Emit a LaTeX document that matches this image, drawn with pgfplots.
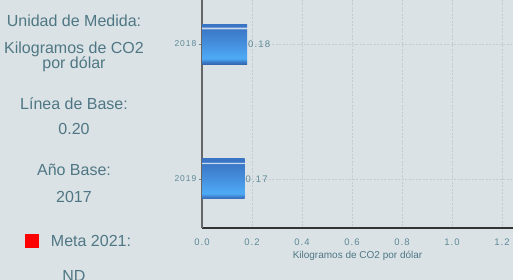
\documentclass[border=0pt]{standalone}
\usepackage{pgfplots}
\pgfplotsset{compat=1.18}
\usepackage{fontspec}
\setmainfont{Liberation Sans}
\newfontfamily\spaced[LetterSpace=12]{Liberation Sans}
\definecolor{bg}{HTML}{DAE2E6}
\definecolor{txt}{HTML}{4F7783}
\definecolor{tick}{HTML}{5E8995}
\definecolor{gridc}{HTML}{C4CCD0}
\definecolor{ba}{HTML}{3568B0}
\definecolor{bb}{HTML}{3A74C2}
\definecolor{bc}{HTML}{4EABF6}
\definecolor{bd}{HTML}{4590DE}
\definecolor{be}{HTML}{3B78C6}
\definecolor{bf}{HTML}{DDE8F4}
\definecolor{bg2}{HTML}{F2F6FA}
\definecolor{bh}{HTML}{3A74C4}
\pgfdeclareverticalshading{barshade}{100bp}{%
color(0bp)=(ba); color(25bp)=(ba); color(27bp)=(bb);
color(32bp)=(bc); color(50bp)=(bd); color(69bp)=(be);
color(69.6bp)=(bf); color(70.8bp)=(bg2); color(71.3bp)=(bh);
color(75bp)=(bh); color(100bp)=(bh)}
\begin{document}
\begin{tikzpicture}[x=1pt,y=1pt]
\useasboundingbox (0,0) rectangle (513,280);
\fill[bg] (0,0) rectangle (513,280);
\clip (0,0) rectangle (513,280);
\begin{scope}[every node/.style={font=\fontsize{16}{18}\selectfont, text=txt, anchor=base, inner sep=0pt}]
\node at (74,{280-27}) {Unidad de Medida:};
\node at (74,{280-53.5}) {Kilogramos de CO2};
\node at (74,{280-69}) {por dólar};
\node at (74,{280-110}) {Línea de Base:};
\node at (74,{280-135}) {0.20};
\node at (74,{280-176}) {Año Base:};
\node at (74,{280-203}) {2017};
\node at (91,{280-247}) {Meta 2021:};
\node at (74,{280-282}) {ND};
\end{scope}
\fill[red] (25,{280-248}) rectangle (39,{280-234});
\begin{axis}[
  at={(202pt,52pt)}, anchor=south west,
  width=311pt, height=228pt, scale only axis,
  xmin=0, xmax=1.244,
  ymin=2017.674, ymax=2019.363, y dir=reverse,
  axis lines*=left,
  x axis line style={black!80, line width=1.2pt},
  y axis line style={black!60, line width=2pt},
  xtick={0,0.2,0.4,0.6,0.8,1.0,1.2},
  xticklabels={0.0,0.2,0.4,0.6,0.8,1.0,1.2},
  ytick={2018,2019},
  yticklabels={2018,2019},
  xtick style={draw=none},
  ytick style={tick, line width=0.5pt},
  tick align=outside,
  major tick length=3pt,
  xmajorgrids, ymajorgrids,
  major grid style={gridc, line width=0.7pt, dash pattern=on 2pt off 1.5pt},
  x tick label style={font=\spaced\fontsize{9.5}{10}\selectfont, text=tick, yshift=-4pt},
  y tick label style={font=\spaced\fontsize{8.5}{10}\selectfont, text=tick, xshift=1pt},
  /pgf/number format/assume math mode=true,
  xlabel={Kilogramos de CO2 por dólar},
  xlabel style={font=\fontsize{10}{10}\selectfont, text=txt, yshift=1pt},
  clip=false,
]
\addplot[xbar, bar width=40pt, draw=none, shading=barshade,
  nodes near coords={\pgfmathprintnumber[fixed,fixed zerofill,precision=2]{\pgfplotspointmeta}},
  nodes near coords style={font=\spaced\fontsize{9.5}{10}\selectfont, text=tick, anchor=west, inner sep=1pt},
] coordinates {(0.18,2018)};
\addplot[xbar, bar width=40pt, draw=none, shading=barshade,
  nodes near coords={\pgfmathprintnumber[fixed,fixed zerofill,precision=2]{\pgfplotspointmeta}},
  nodes near coords style={font=\spaced\fontsize{9.5}{10}\selectfont, text=tick, anchor=west, inner sep=1pt},
] coordinates {(0.17,2019)};
\end{axis}
\end{tikzpicture}
\end{document}
